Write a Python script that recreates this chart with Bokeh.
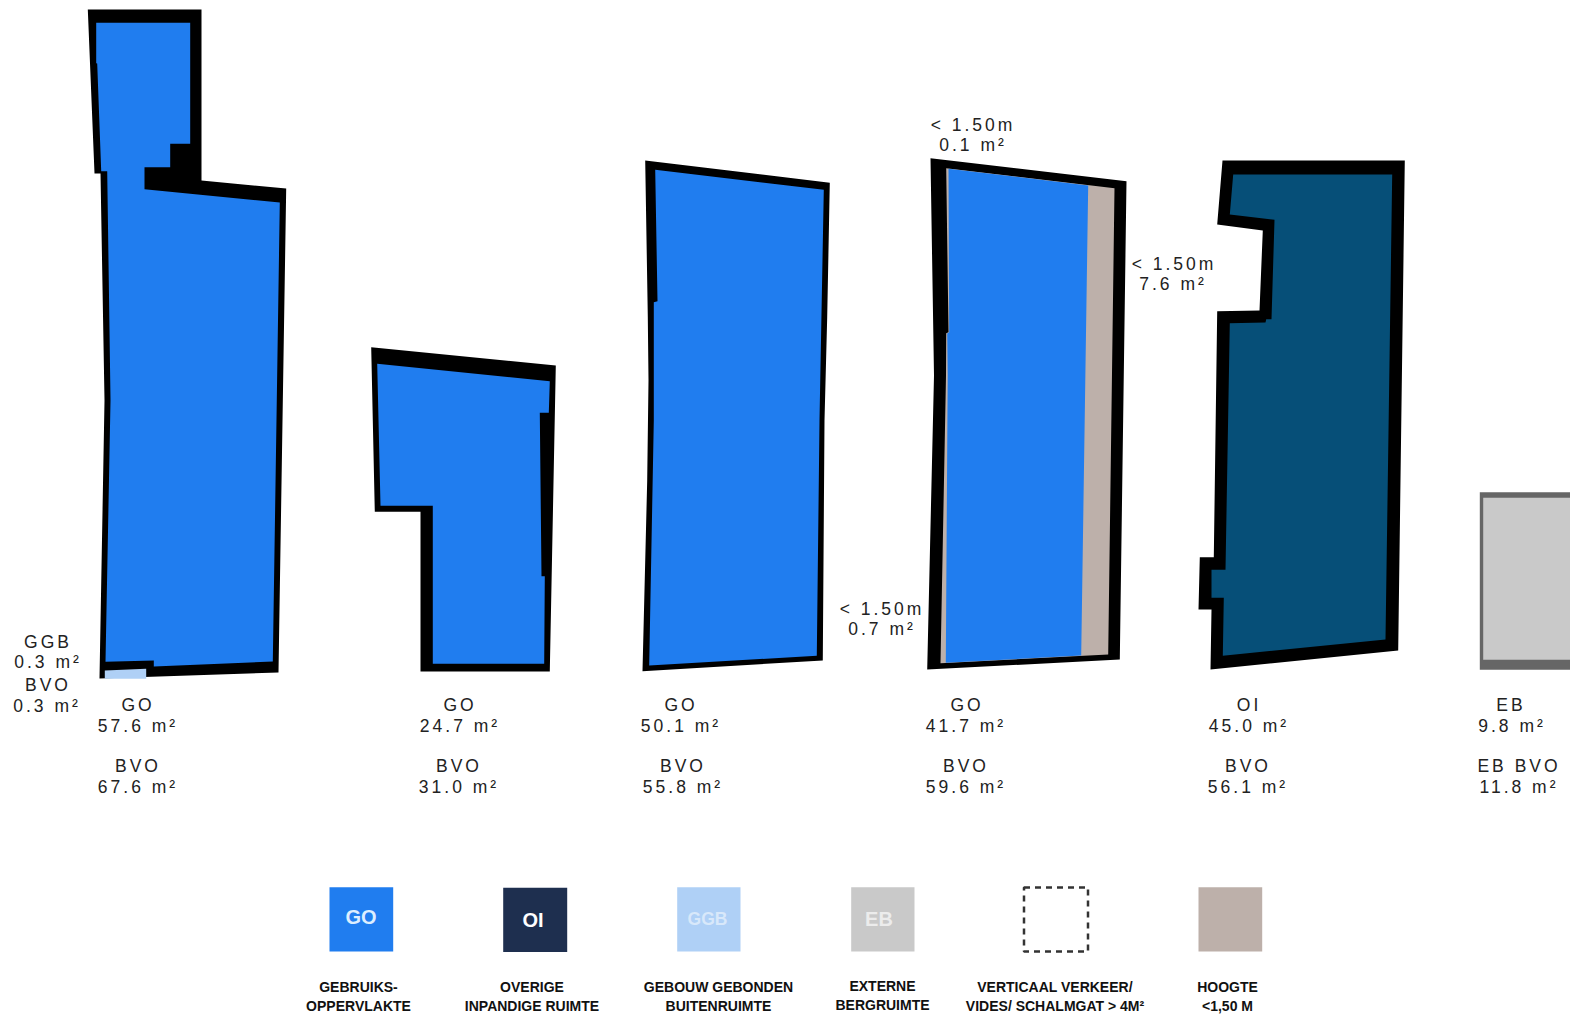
from bokeh.plotting import figure
from bokeh.layouts import column
from bokeh.models import ColumnDataSource
from bokeh.core.properties import value
from bokeh.embed import file_html
from bokeh.resources import INLINE

# ---- colours
BLUE = "#207DEF"
NAVY = "#064F78"
TAUPE = "#BDB0AA"
LIGHT = "#AFD0F6"
GREY = "#C9C9C9"
DGREY = "#666666"

# ---- floor plan outlines (plan coordinates)
wall1_x = [87.3, 201, 201, 285.7, 278, 99, 104, 100, 94]
wall1_y = [9, 9, 180, 188, 672, 678, 400, 173, 173]
room1_x = [95.7, 189.7, 189.7, 169.7, 169.7, 144, 144, 279.3, 272.3, 153.3, 153.3, 105, 110, 106.7, 100.7, 96.7, 95.7]
room1_y = [22.3, 22.3, 143.3, 143.3, 166.7, 166.7, 188.7, 202, 661, 666, 660, 661.3, 400, 170.7, 170.7, 63, 62.7]
ggb1_x = [104.3, 145.7, 145.7, 104.3]
ggb1_y = [670, 668.3, 678.3, 678.3]

wall2_x = [370.7, 555.3, 549.3, 420, 420, 374.3]
wall2_y = [346.7, 365, 671, 671, 511.3, 511.3]
room2_x = [376.7, 549.3, 548.3, 539.3, 541, 544.3, 543.7, 432.3, 432.3, 380]
room2_y = [363.3, 380.7, 412.3, 412.3, 575.7, 575.7, 663.3, 663.3, 505.3, 505.3]

wall3_x = [644.7, 829.3, 826.7, 824, 822.3, 642, 646.7, 648, 647.3]
wall3_y = [160, 182.3, 316.7, 420, 660, 670.7, 480, 380, 316.7]
room3_x = [654.7, 823.3, 819, 816.3, 648.7, 653.3, 653.3, 657]
room3_y = [169.3, 189.3, 420, 655.3, 665, 420, 301.7, 300.7]

wall4_x = [930, 1126, 1119.3, 926.7, 933.5]
wall4_y = [157.7, 180.7, 659, 669, 375]
low4_x = [945.7, 1114, 1107.7, 940, 945.5, 945.7, 948]
low4_y = [167.7, 187.7, 654, 662.7, 375, 332.7, 331.7]
room4_x = [948, 1087.7, 1080.7, 945.3, 947.2, 946.7, 948.7]
room4_y = [168.3, 185, 655, 662.3, 375, 333, 331.7]

wall5_x = [1222, 1404.3, 1397.7, 1210, 1211, 1198, 1199.3, 1213.3, 1216.7, 1259, 1262.3, 1216.7]
wall5_y = [160, 160, 650, 669, 609, 609, 556.7, 556.7, 310.7, 310, 230, 224]
room5_x = [1232.7, 1391.7, 1385, 1222.3, 1223.3, 1211, 1211, 1225, 1229.3, 1265, 1265.7, 1271, 1274, 1229.3]
room5_y = [174, 174, 639, 655.3, 597.3, 597.3, 569.3, 569.3, 322.7, 322, 318.7, 318.7, 219.3, 214]

wall6_x = [1479.3, 1575, 1575, 1479.3]
wall6_y = [491.7, 491.7, 669.3, 669.3]
room6_x = [1482.7, 1575, 1575, 1482.7]
room6_y = [497.3, 497.3, 659.3, 659.3]

# ---- annotations
note_text = ["GO", "57.6 m²", "BVO", "67.6 m²",
             "GGB", "0.3 m²", "BVO", "0.3 m²",
             "GO", "24.7 m²", "BVO", "31.0 m²",
             "GO", "50.1 m²", "BVO", "55.8 m²",
             "GO", "41.7 m²", "BVO", "59.6 m²",
             "OI", "45.0 m²", "BVO", "56.1 m²",
             "EB", "9.8 m²", "EB BVO", "11.8 m²",
             "< 1.50m", "0.1 m²", "< 1.50m", "7.6 m²", "< 1.50m", "0.7 m²"]
note_x = [136, 136, 136, 136,
          46, 46, 46, 45,
          458, 458, 457, 457,
          679, 679, 681, 681,
          965, 964, 964, 964,
          1247, 1247, 1246, 1246,
          1509, 1510, 1517, 1517,
          971, 971, 1172, 1171, 880, 880]
note_y = [704, 725, 765, 786,
          641, 661, 684, 705,
          704, 725, 765, 786,
          704, 725, 765, 786,
          704, 725, 765, 786,
          704, 725, 765, 786,
          704, 725, 765, 786,
          124, 144, 263, 283, 608, 628]
TRACKING = 3.0

# ---- legend
key_left = [329, 502.7, 676.7, 850.7, 1198]
key_right = [392.7, 566.7, 740, 914, 1261.7]
key_top = [886.7, 887.3, 886.7, 886.7, 886.7]
key_bottom = [951, 951.5, 951, 951, 951]
key_color = [BLUE, "#1E2F4F", LIGHT, GREY, TAUPE]
dash_left, dash_right, dash_top, dash_bottom = 1023.5, 1087.5, 887, 951
key_text = ["GO", "OI", "GGB", "EB"]
key_text_x = [360.5, 532.5, 707, 878.5]
key_text_y = [916, 919, 918.5, 918.5]
key_text_size = ["20px", "20px", "17.5px", "20px"]
key_text_color = ["#DCEEFF", "#FFFFFF", "#D8E8FA", "#ECECEC"]
label_text = ["GEBRUIKS-", "OPPERVLAKTE", "OVERIGE", "INPANDIGE RUIMTE",
              "GEBOUW GEBONDEN", "BUITENRUIMTE", "EXTERNE", "BERGRUIMTE",
              "VERTICAAL VERKEER/", "VIDES/ SCHALMGAT > 4M²", "HOOGTE", "<1,50 M"]
label_x = [358, 358, 531.5, 531.5, 718, 718, 882, 882, 1054.5, 1054.5, 1227, 1227]
label_y = [986, 1005, 986, 1005, 986, 1005, 985, 1004, 986, 1005, 986, 1005]


def canvas(height, y0, y1, **styles):
    f = figure(width=1570, height=height, x_range=(0, 1570), y_range=(y1, y0),
               output_backend="svg", toolbar_location=None, min_border=0,
               background_fill_color="white", outline_line_color=None)
    f.axis.visible = False
    f.grid.visible = False
    if styles:
        f.styles = styles
    return f


p = canvas(832, 0, 832, **{"letter-spacing": f"{TRACKING}px"})
shapes = [(wall1_x, wall1_y, "black"), (room1_x, room1_y, BLUE), (ggb1_x, ggb1_y, LIGHT),
          (wall2_x, wall2_y, "black"), (room2_x, room2_y, BLUE),
          (wall3_x, wall3_y, "black"), (room3_x, room3_y, BLUE),
          (wall4_x, wall4_y, "black"), (low4_x, low4_y, TAUPE), (room4_x, room4_y, BLUE),
          (wall5_x, wall5_y, "black"), (room5_x, room5_y, NAVY),
          (wall6_x, wall6_y, DGREY), (room6_x, room6_y, GREY)]
for xs, ys, c in shapes:
    p.patch(xs, ys, fill_color=c, line_color=None)
# the tracking grows each string to the right of its anchor, so the anchor moves back by half of it
note_anchor = [x - TRACKING * (len(t) - 1) / 2 for x, t in zip(note_x, note_text)]
p.text(x="x", y="y", text="t", source=ColumnDataSource(dict(x=note_anchor, y=note_y, t=note_text)),
       text_font=value("Liberation Sans"), text_font_size="17.5px", text_color="#222222",
       text_align="center", text_baseline="middle")

q = canvas(182, 832, 1014)
q.quad(left=key_left, right=key_right, top=key_top, bottom=key_bottom, fill_color=key_color, line_color=None)
q.quad(left=[dash_left], right=[dash_right], top=[dash_top], bottom=[dash_bottom], fill_color=None,
       line_color="#333333", line_width=2.5, line_dash="6 5")
q.text(x="x", y="y", text="t", text_color="c", text_font_size="s",
       source=ColumnDataSource(dict(x=key_text_x, y=key_text_y, t=key_text, c=key_text_color, s=key_text_size)),
       text_font=value("Liberation Sans"), text_font_style="bold",
       text_align="center", text_baseline="middle")
q.text(x="x", y="y", text="t", source=ColumnDataSource(dict(x=label_x, y=label_y, t=label_text)),
       text_font=value("Liberation Sans"), text_font_style="bold", text_font_size="14px", text_color="#111111",
       text_align="center", text_baseline="middle")

layout = column(p, q, spacing=0)
open("out.html", "w").write(file_html(layout, INLINE))
